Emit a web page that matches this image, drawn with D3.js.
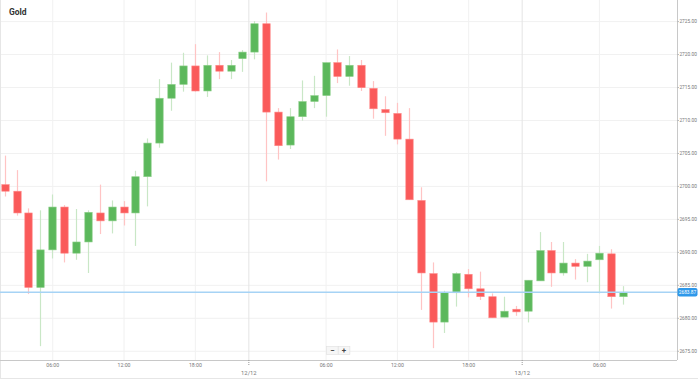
<!DOCTYPE html>
<html><head><meta charset="utf-8">
<script src="https://cdn.jsdelivr.net/npm/d3@7"></script>
<style>html,body{margin:0;padding:0;background:#fff;}svg{display:block;font-family:Roboto,Arial,sans-serif;}</style>
</head><body><svg id="c" width="698" height="380"></svg>
<script>
const title = "Gold";
const opens  = [2700.2,2699.2,2695.9,2684.6,2690.3,2696.8,2689.8,2691.5,2695.9,2694.7,2696.8,2695.9,2701.4,2706.5,2713.3,2715.4,2718.2,2714.4,2718.3,2717.4,2719.3,2720.3,2724.6,2711.2,2706.2,2710.5,2712.8,2713.7,2718.7,2716.6,2718.3,2714.8,2711.6,2711.0,2707.1,2697.8,2686.7,2679.35,2683.8,2686.6,2684.4,2683.2,2680.1,2681.3,2681.0,2685.6,2690.2,2686.8,2688.3,2687.8,2688.8,2689.7,2683.2];
const highs  = [2704.6,2702.4,2696.6,2696.3,2698.7,2697.1,2696.5,2696.3,2700.2,2697.8,2697.7,2702.3,2707.2,2716.2,2718.7,2720.2,2721.5,2719.8,2720.3,2719.1,2720.6,2725.0,2726.3,2711.8,2711.8,2716.0,2716.7,2718.7,2720.7,2719.7,2719.1,2715.9,2713.6,2712.6,2711.8,2699.8,2688.4,2684.1,2686.9,2687.4,2687.0,2683.7,2683.2,2681.8,2685.7,2693.0,2691.5,2691.5,2688.9,2689.7,2690.9,2690.4,2684.8];
const lows   = [2698.4,2695.5,2683.6,2675.7,2689.0,2688.4,2688.8,2686.8,2692.7,2692.8,2694.0,2690.9,2696.9,2705.8,2711.4,2714.3,2714.3,2713.5,2716.2,2716.2,2717.3,2719.2,2700.7,2704.0,2705.6,2709.9,2711.8,2710.5,2715.6,2715.2,2714.4,2710.2,2707.6,2706.3,2697.9,2681.2,2675.4,2677.7,2681.7,2683.1,2682.7,2680.0,2680.1,2680.3,2679.3,2685.6,2684.7,2686.4,2685.8,2685.4,2683.7,2681.4,2682.0];
const closes = [2699.2,2695.9,2684.6,2690.3,2696.8,2689.8,2691.5,2696.0,2694.7,2696.8,2695.9,2701.4,2706.5,2713.3,2715.4,2718.2,2714.4,2718.3,2717.4,2718.3,2720.3,2724.6,2711.2,2706.1,2710.5,2712.8,2713.7,2718.7,2716.6,2718.3,2714.9,2711.7,2711.1,2707.1,2697.9,2686.8,2679.35,2683.8,2686.7,2684.4,2683.2,2680.0,2681.0,2680.9,2685.7,2690.2,2686.8,2688.3,2687.8,2688.6,2689.8,2683.2,2683.87];
const hourTickIdx = [4,10,16,27,33,39,50];
const hourTickLabels = ["06:00","12:00","18:00","06:00","12:00","18:00","06:00"];
const dateTickIdx = [20.5,43.5];
const dateTickLabels = ["12/12","13/12"];
const yTicks = [2675,2680,2685,2690,2695,2700,2705,2710,2715,2720,2725];
const lastPrice = 2683.87;

const svg = d3.select("#c");
const W = 698, H = 380;
const P = {left:0, right:677, top:0, bottom:360};
const n = opens.length;
const x = d3.scaleLinear().domain([0, n-1]).range([4.7, 622.7]);
const y = d3.scaleLinear().domain([2673.6, 2728.2]).range([P.bottom, P.top]);

svg.append("rect").attr("width",W).attr("height",H).attr("fill","#fff");

// horizontal grid
svg.append("g").attr("transform",`translate(${P.right},0)`)
  .call(d3.axisLeft(y).tickValues(yTicks).tickSize(P.right - P.left).tickFormat(""))
  .call(g=>g.select(".domain").remove())
  .call(g=>g.selectAll("line").attr("stroke","#f1f1f1"));

// vertical grid (hours)
svg.append("g").attr("transform",`translate(0,${P.bottom})`)
  .call(d3.axisTop(x).tickValues(hourTickIdx).tickSize(P.bottom-P.top).tickFormat(""))
  .call(g=>g.select(".domain").remove())
  .call(g=>g.selectAll("line").attr("stroke","#f1f1f1"));
// vertical grid (dates)
svg.append("g").attr("transform",`translate(0,${P.bottom})`)
  .call(d3.axisTop(x).tickValues(dateTickIdx).tickSize(P.bottom-P.top).tickFormat(""))
  .call(g=>g.select(".domain").remove())
  .call(g=>g.selectAll("line").attr("stroke","#e4e4e4"));

// frame
svg.append("line").attr("x1",0.5).attr("x2",0.5).attr("y1",0).attr("y2",378).attr("stroke","#e6e6e6");
svg.append("line").attr("x1",0).attr("x2",W).attr("y1",378.5).attr("y2",378.5).attr("stroke","#e6e6e6");

// candles
const idx = d3.range(n);
const up = i => closes[i] >= opens[i];
const bw = 7.4;
const cg = svg.append("g");
cg.selectAll("line.wick").data(idx).join("line").attr("class","wick")
  .attr("x1",i=>Math.round(x(i))+0.5).attr("x2",i=>Math.round(x(i))+0.5)
  .attr("y1",i=>y(highs[i])).attr("y2",i=>y(lows[i]))
  .attr("stroke",i=>up(i)?"#c9e7c6":"#ffc4c4").attr("stroke-width",1.2);
cg.selectAll("rect.body").data(idx).join("rect").attr("class","body")
  .attr("x",i=>Math.round(x(i))+0.5-bw/2)
  .attr("width",bw)
  .attr("y",i=>y(Math.max(opens[i],closes[i])))
  .attr("height",i=>Math.max(1.5, Math.abs(y(opens[i])-y(closes[i]))))
  .attr("fill",i=>up(i)?"#5cb85c":"#fa5a5a")
  .attr("stroke",i=>up(i)?"#8fd08c":"#ff8a8a").attr("stroke-width",0.6);

// last price line
svg.append("line").attr("x1",P.left).attr("x2",P.right).attr("y1",y(lastPrice)).attr("y2",y(lastPrice))
  .attr("stroke","#a6d3f5").attr("stroke-width",1.5);

// right axis
const ya = svg.append("g").attr("transform",`translate(${P.right},0)`)
  .call(d3.axisRight(y).tickValues(yTicks).tickSize(2).tickPadding(0.4).tickFormat(d3.format(".2f")));
ya.select(".domain").attr("stroke","#c8c8c8").attr("d",`M0.5,0V${P.bottom}`);
ya.selectAll(".tick line").attr("stroke","#bbb");
ya.selectAll("text").attr("fill","#777").attr("font-size",4.8).attr("font-family","Roboto,Arial,sans-serif");

// last price label
const lp = svg.append("g").attr("transform",`translate(${P.right+0.5},${y(lastPrice)})`);
lp.append("rect").attr("x",0).attr("y",-4.3).attr("width",20).attr("height",8.6).attr("rx",2).attr("fill","#2e98ea");
lp.append("text").attr("x",10).attr("y",0).attr("dy","0.35em").attr("text-anchor","middle")
  .attr("fill","#fff").attr("font-size",4.8).text(d3.format(".2f")(lastPrice));

// bottom axis
const xa = svg.append("g").attr("transform",`translate(0,${P.bottom})`)
  .call(d3.axisBottom(x).tickValues(hourTickIdx).tickSize(0).tickPadding(3.5).tickFormat((d,i)=>hourTickLabels[i]));
xa.select(".domain").attr("stroke","#c8c8c8").attr("d",`M0,0.5H${P.right}`);
xa.selectAll("text").attr("fill","#777").attr("font-size",5.2).attr("font-family","Roboto,Arial,sans-serif");

const xd = svg.append("g").attr("transform",`translate(0,${P.bottom})`)
  .call(d3.axisBottom(x).tickValues(dateTickIdx).tickSize(6).tickPadding(5).tickFormat((d,i)=>dateTickLabels[i]));
xd.select(".domain").remove();
xd.selectAll(".tick line").attr("stroke","#999").attr("stroke-dasharray","1,1");
xd.selectAll("text").attr("fill","#777").attr("font-size",5.8).attr("font-family","Roboto,Arial,sans-serif");

// title
svg.append("text").attr("x",9).attr("y",14.5).attr("font-size",8.5).attr("font-weight","bold")
  .attr("fill","#333").text(title);

// zoom buttons
const zb = svg.append("g").attr("transform","translate(326.5,346.5)");
["−","+"].forEach((s,k)=>{
  zb.append("rect").attr("x",k*11.7).attr("y",0).attr("width",11.7).attr("height",8).attr("fill","#f6f6f6").attr("stroke","#e0e0e0").attr("stroke-width",0.6);
  zb.append("text").attr("x",k*11.7+5.85).attr("y",4).attr("dy","0.35em").attr("text-anchor","middle")
    .attr("font-size",8).attr("font-weight","bold").attr("fill","#444").text(s);
});
</script></body></html>
